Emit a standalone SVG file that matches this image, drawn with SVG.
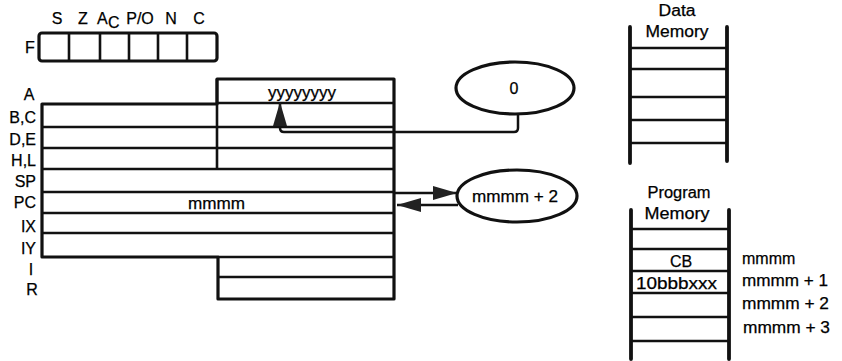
<svg xmlns="http://www.w3.org/2000/svg" width="842" height="361" viewBox="0 0 842 361">
<defs>
<style>
.t{font-family:"Liberation Sans",Arial,sans-serif;font-size:16px;fill:#000;stroke:#000;stroke-width:0.25}
.ln{stroke:#111;stroke-width:2.6;fill:none}
.bx{stroke:#111;stroke-width:3.2;fill:none;stroke-linejoin:round}
.rail{stroke:#111;stroke-width:3.8;stroke-linecap:round;fill:none}
.cn{stroke:#111;stroke-width:2.5;fill:none}
</style>
<marker id="ah" viewBox="0 0 24 14" refX="24" refY="7" markerWidth="24" markerHeight="14" markerUnits="userSpaceOnUse" orient="auto">
<path d="M0,0 L24,7 L0,14 Z" fill="#222"/>
</marker>
</defs>
<rect width="842" height="361" fill="#fff"/>

<g id="flags">
<text class="t" x="57" y="24" text-anchor="middle">S</text>
<text class="t" x="83" y="24" text-anchor="middle">Z</text>
<text class="t" x="97" y="24">A</text>
<text class="t" x="108" y="28">C</text>
<text class="t" x="140" y="24" text-anchor="middle">P/O</text>
<text class="t" x="171" y="24" text-anchor="middle">N</text>
<text class="t" x="199" y="24" text-anchor="middle">C</text>
<text class="t" x="25" y="53">F</text>
<rect class="bx" x="39" y="33" width="178" height="28" rx="3" stroke-width="4"/>
<path class="ln" d="M69,33V61M100,33V61M129,33V61M158,33V61M187,33V61"/>
</g>

<g id="registers">
<path class="bx" d="M42,104H217V79H394V299H218V257H42Z"/>
<path class="ln" d="M217,79V169M217,103H394M42,127H394M42,148H394M42,169H394M42,192H394M42,213H394M42,233H394M218,257H394M218,277H394"/>
<text class="t" x="29" y="100" text-anchor="middle">A</text>
<text class="t" x="36" y="123" text-anchor="end">B,C</text>
<text class="t" x="36" y="145" text-anchor="end">D,E</text>
<text class="t" x="36" y="166" text-anchor="end">H,L</text>
<text class="t" x="36" y="187" text-anchor="end">SP</text>
<text class="t" x="36" y="208" text-anchor="end">PC</text>
<text class="t" x="36" y="232" text-anchor="end">IX</text>
<text class="t" x="36" y="254" text-anchor="end">IY</text>
<text class="t" x="31" y="275" text-anchor="middle">I</text>
<text class="t" x="32" y="295" text-anchor="middle">R</text>
<text class="t" x="268" y="98" textLength="68" lengthAdjust="spacingAndGlyphs">yyyyyyyy</text>
<text class="t" x="188" y="209" textLength="57" lengthAdjust="spacingAndGlyphs">mmmm</text>
</g>

<g id="zero">
<ellipse class="bx" cx="515" cy="88" rx="59" ry="26"/>
<text class="t" x="514" y="94" text-anchor="middle">0</text>
</g>

<g id="pcplus2">
<ellipse class="bx" cx="517" cy="196" rx="60" ry="26"/>
<text class="t" x="472" y="202" textLength="86" lengthAdjust="spacingAndGlyphs">mmmm + 2</text>
</g>

<g id="datamem">
<text class="t" x="677" y="16" text-anchor="middle" textLength="37" lengthAdjust="spacingAndGlyphs">Data</text>
<text class="t" x="677" y="37" text-anchor="middle" textLength="63" lengthAdjust="spacingAndGlyphs">Memory</text>
<path class="rail" d="M630,27V163M727,27V161"/>
<path class="ln" d="M630,48H727M630,69H727M630,97H727M630,120H727M630,143H727"/>
</g>

<g id="progmem">
<text class="t" x="679" y="198" text-anchor="middle" textLength="63" lengthAdjust="spacingAndGlyphs">Program</text>
<text class="t" x="677" y="219" text-anchor="middle" textLength="65" lengthAdjust="spacingAndGlyphs">Memory</text>
<path class="rail" d="M631,210V359M729,210V359"/>
<path class="ln" d="M631,229H729M631,249H729M631,271H729M631,293H729M631,317H729M631,341H729"/>
<text class="t" x="681" y="267" text-anchor="middle">CB</text>
<text class="t" x="636" y="289" textLength="81" lengthAdjust="spacingAndGlyphs">10bbbxxx</text>
<text class="t" x="742" y="264">mmmm</text>
<text class="t" x="742" y="286" textLength="86" lengthAdjust="spacingAndGlyphs">mmmm + 1</text>
<text class="t" x="742" y="309" textLength="87" lengthAdjust="spacingAndGlyphs">mmmm + 2</text>
<text class="t" x="743" y="333" textLength="87" lengthAdjust="spacingAndGlyphs">mmmm + 3</text>
</g>

<g id="connectors">
<path class="cn" d="M518,114V128Q518,132 514,132H284Q280,132 280,128V102" marker-end="url(#ah)"/>
<path class="cn" d="M394,193H457" marker-end="url(#ah)"/>
<path class="cn" d="M458,205H397" marker-end="url(#ah)"/>
</g>
</svg>
